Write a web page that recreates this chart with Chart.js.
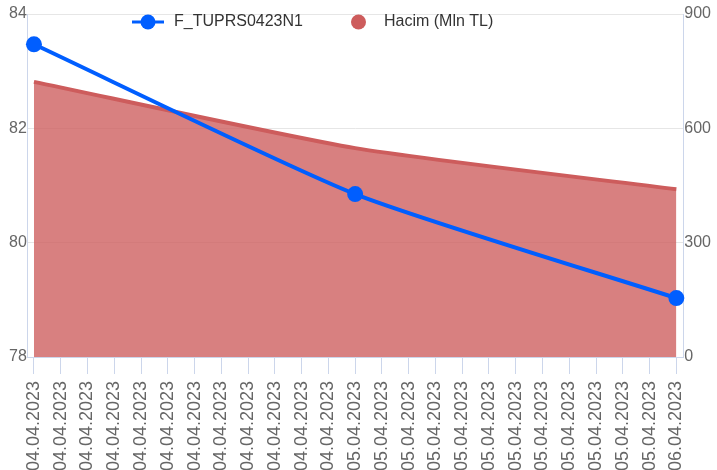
<!DOCTYPE html>
<html>
<head>
<meta charset="utf-8">
<script src="https://cdn.jsdelivr.net/npm/chart.js@4"></script>
<style>
    html, body { margin: 0; padding: 0; background: #fff; }
</style>
</head>
<body>
<canvas id="fiyatHacim" width="717" height="470"></canvas>
<script>
// x axis labels (one per tick)
const dateLabels = [
    '04.04.2023', '04.04.2023', '04.04.2023', '04.04.2023', '04.04.2023', '04.04.2023',
    '04.04.2023', '04.04.2023', '04.04.2023', '04.04.2023', '04.04.2023', '04.04.2023',
    '05.04.2023', '05.04.2023', '05.04.2023', '05.04.2023', '05.04.2023', '05.04.2023',
    '05.04.2023', '05.04.2023', '05.04.2023', '05.04.2023', '05.04.2023', '05.04.2023',
    '06.04.2023'
];
// positions of the actual data points on the x axis
const pointIndex = [0, 12, 24];
const fiyat = [83.47, 80.85, 79.03];
const hacim = [722, 548, 440];

const fontFamily = '"Liberation Sans", Arial, sans-serif';
const axisColor = '#ccd6eb';
const gridColor = '#e6e6e6';

function toPoints(values) {
    return pointIndex.map((x, i) => ({ x: x, y: values[i] }));
}

// legend drawn inside the plot, like the original
const topLegend = {
    id: 'topLegend',
    afterDraw(chart) {
        const ctx = chart.ctx;
        const blue = chart.data.datasets[0];
        const red = chart.data.datasets[1];
        const y = 22;
        ctx.save();
        ctx.font = '16px ' + fontFamily;
        ctx.textBaseline = 'middle';

        ctx.strokeStyle = blue.borderColor;
        ctx.lineWidth = 3;
        ctx.beginPath();
        ctx.moveTo(132, y);
        ctx.lineTo(164, y);
        ctx.stroke();
        ctx.fillStyle = blue.borderColor;
        ctx.beginPath();
        ctx.arc(148, y, 7.5, 0, Math.PI * 2);
        ctx.fill();
        ctx.fillStyle = '#333';
        ctx.fillText(blue.label, 174, y);

        ctx.fillStyle = red.borderColor;
        ctx.beginPath();
        ctx.arc(358.5, y, 7.5, 0, Math.PI * 2);
        ctx.fill();
        ctx.fillStyle = '#333';
        ctx.fillText(red.label, 384, y);
        ctx.restore();
    }
};

new Chart(document.getElementById('fiyatHacim'), {
    type: 'line',
    data: {
        datasets: [{
            label: 'F_TUPRS0423N1',
            data: toPoints(fiyat),
            yAxisID: 'y',
            borderColor: '#005eff',
            backgroundColor: '#005eff',
            borderWidth: 4,
            pointRadius: 8,
            pointBackgroundColor: '#005eff',
            pointBorderWidth: 0,
            tension: 0.2,
            fill: false,
            clip: false
        }, {
            label: 'Hacim (Mln TL)',
            data: toPoints(hacim),
            yAxisID: 'y1',
            borderColor: '#cd5c5c',
            backgroundColor: 'rgba(205, 92, 92, 0.78)',
            borderWidth: 4,
            pointRadius: 0,
            tension: 0.2,
            fill: 'origin',
            clip: false
        }]
    },
    options: {
        responsive: false,
        animation: false,
        layout: {
            padding: { left: 8, right: 5, top: 14, bottom: 0 }
        },
        plugins: {
            legend: { display: false },
            tooltip: { enabled: false }
        },
        scales: {
            x: {
                type: 'linear',
                min: -0.23,
                max: 24.26,
                afterBuildTicks: (scale) => {
                    scale.ticks = dateLabels.map((_, i) => ({ value: i }));
                },
                afterFit: (scale) => {
                    scale.height = 113;
                },
                grid: {
                    drawOnChartArea: false,
                    tickLength: 17,
                    tickColor: axisColor,
                    color: axisColor
                },
                border: { color: axisColor },
                ticks: {
                    autoSkip: false,
                    minRotation: 90,
                    maxRotation: 90,
                    padding: 7,
                    color: '#666',
                    font: { family: fontFamily, size: 18 },
                    callback: (value) => dateLabels[Math.round(value)]
                }
            },
            y: {
                position: 'left',
                min: 78,
                max: 84,
                grid: { color: gridColor, drawTicks: false },
                border: { color: axisColor },
                ticks: {
                    stepSize: 2,
                    padding: 1,
                    color: '#666',
                    font: { family: fontFamily, size: 16 }
                }
            },
            y1: {
                position: 'right',
                min: 0,
                max: 900,
                grid: { drawOnChartArea: false, drawTicks: false },
                border: { color: axisColor },
                ticks: {
                    stepSize: 300,
                    padding: 1,
                    color: '#666',
                    font: { family: fontFamily, size: 16 }
                }
            }
        }
    },
    plugins: [topLegend]
});
</script>
</body>
</html>
